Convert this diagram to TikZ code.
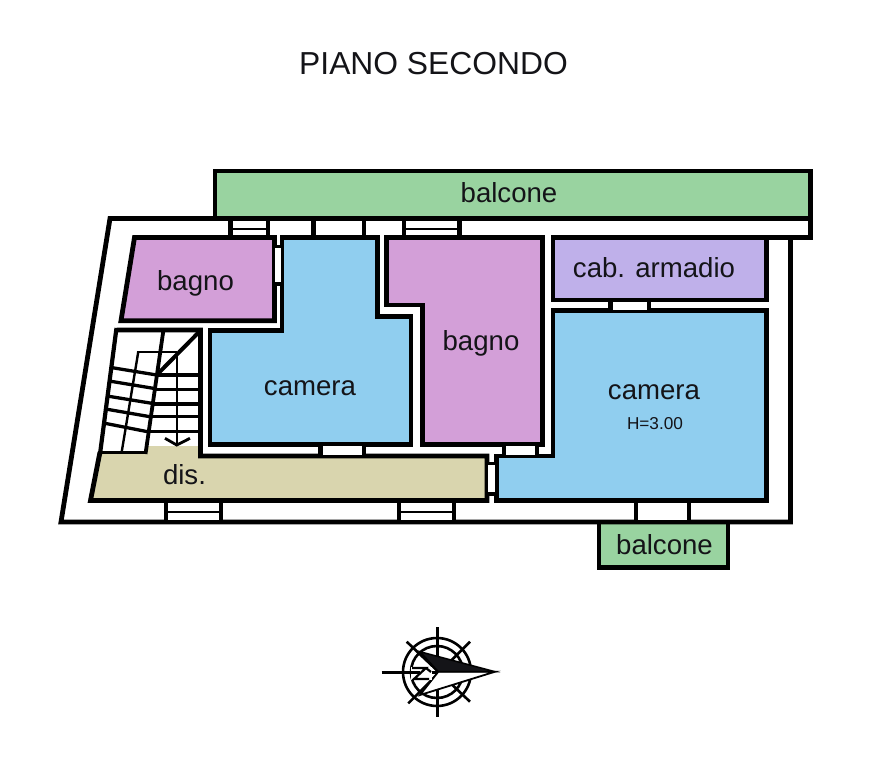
\documentclass[tikz,border=0pt]{standalone}
\usepackage{fontspec}
\setmainfont{Liberation Sans}
\definecolor{cgreen}{HTML}{99D3A0}
\definecolor{cpink}{HTML}{D39FD8}
\definecolor{cblue}{HTML}{90CEEF}
\definecolor{clilac}{HTML}{BFB0EA}
\definecolor{csand}{HTML}{D9D5AE}
\definecolor{ink}{HTML}{141418}
\tikzset{
  wall/.style={draw=black,line width=4.8pt,line join=miter},
  tread/.style={draw=black,line width=3.3pt},
  thinline/.style={draw=black,line width=2.4pt},
  label/.style={anchor=base,text=ink,font=\fontsize{27.6}{30}\selectfont,inner sep=0pt},
  small/.style={anchor=base,text=ink,font=\fontsize{17.2}{20}\selectfont,inner sep=0pt},
  title/.style={anchor=base,text=ink,font=\fontsize{31.8}{36}\selectfont,inner sep=0pt},
  compass/.style={draw=black,line width=2.6pt},
}
% horizontal-wall opening: x1,x2 white part; y1,y2 extent; tick on both sides
\newcommand\opening[4]{%
  \fill[white] (#1,#3) rectangle (#2,#4);
  \fill[black] (#1-4.4,#3) rectangle (#1,#4);
  \fill[black] (#2,#3) rectangle (#2+4.4,#4);
}
\begin{document}
\begin{tikzpicture}[x=1pt,y=-1pt]
\useasboundingbox (0,0) rectangle (871,768);
\fill[white] (0,0) rectangle (871,768);

% balconies
\path[wall,fill=cgreen] (215,218.5) -- (215,171) -- (810.5,171) -- (810.5,218.5) -- cycle;
\path[wall,fill=cgreen] (599,522) -- (599,567.5) -- (728,567.5) -- (728,522) -- cycle;

% outer wall
\draw[wall] (790.5,237.5) -- (790.5,522) -- (61,522) -- (110,218.5) -- (215,218.5);
\draw[wall] (810.5,216) -- (810.5,237.5) -- (553,237.5);

% rooms
\path[wall,fill=cpink] (134.5,237.5) -- (274.5,237.5) -- (274.5,320.7) -- (121,320.7) -- cycle;
\path[wall,fill=cblue] (282,237.5) -- (377.5,237.5) -- (377.5,316.5) -- (411,316.5) -- (411,444.2) -- (210,444.2) -- (210,330.5) -- (282,330.5) -- cycle;
\path[wall,fill=cpink] (386.5,237.5) -- (542.5,237.5) -- (542.5,444.5) -- (422.5,444.5) -- (422.5,305) -- (386.5,305) -- cycle;
\path[wall,fill=clilac] (553,237.5) -- (766.5,237.5) -- (766.5,300) -- (553,300) -- cycle;
\path[wall,fill=cblue] (553,310.5) -- (766.5,310.5) -- (766.5,500.5) -- (496.5,500.5) -- (496.5,456) -- (553,456) -- cycle;

% distribution corridor
\fill[csand] (100,452) -- (146.7,452) -- (146.7,446) -- (200.5,446) -- (200.5,456) -- (487,456) -- (487,500.5) -- (90.5,500.5) -- cycle;
\draw[wall] (116.5,330) -- (200.5,330) -- (200.5,456) -- (487,456) -- (487,500.5) -- (90.5,500.5) -- (100,452);
\draw[line width=4.2pt] (116.5,328) -- (100,454);

% stair
\draw[tread] (100,452.7) -- (146.7,452.7);
\draw[line width=3.8pt] (163.3,331) -- (145.5,454);
\draw[line width=4pt] (199,332) -- (156.7,375);
\draw[thinline] (136.7,351.7) -- (176.7,351.7);
\draw[thinline] (138.3,351.7) -- (121.7,452);
\draw[thinline] (176.7,351.7) -- (176.7,445);
\foreach \a/\b/\c/\d in {111/367.5/156.7/375, 109/381/153.3/388.3, 107/396/151.7/403.3, 105.5/409/150/416.7, 103.5/423/147.5/431.7}
  \draw[tread] (\a,\b) -- (\c,\d);
\foreach \a/\b in {156.7/375, 153.3/389.3, 151.5/404, 150/416.7, 147.5/431.7}
  \draw[tread] (\a,\b) -- (200,\b);
\draw[line width=2.8pt] (165,438.3) -- (176.7,445) -- (190,438.3);

% openings, top wall
\opening{232.7}{266}{221}{235}
\draw[thinline] (232.7,229) -- (266,229);
\fill[black] (311,221) rectangle (315.7,235);
\fill[black] (361.7,221) rectangle (366,235);
\opening{406}{457.3}{221}{235}
\draw[thinline] (406,229) -- (457.3,229);
% openings, bottom wall
\opening{168}{219}{503}{519.6}
\draw[thinline] (168,512) -- (219,512);
\opening{401}{452}{503}{519.6}
\draw[thinline] (401,512) -- (452,512);
\opening{638.3}{687}{503}{519.6}
% inner openings
\opening{612.7}{646.7}{301.6}{310}
\opening{506}{535}{445.5}{455}
\opening{322.7}{362}{445.5}{455}
% vertical openings
\fill[black] (272,245) rectangle (284,286);
\fill[white] (275,248.3) rectangle (280.7,281.7);
\fill[black] (484.7,461.7) rectangle (498.7,496);
\fill[white] (487.5,465) rectangle (494.6,491.7);

% compass
\draw[compass] (437,672) circle (34);
\draw[compass] (437,672) circle (26);
\draw[compass] (437.7,627.3) -- (437.7,716.7);
\draw[compass] (381.7,672.3) -- (438,672.3);
\draw[compass] (406.7,641.7) -- (470,701.7);
\draw[compass] (470,641.7) -- (408.3,703.3);
\path[draw=black,line width=1.8pt,fill=white] (420,695) -- (438.3,671.7) -- (495,671.7) -- cycle;
\path[draw=black,line width=1.5pt,fill=ink] (420,651.7) -- (495,671.7) -- (438.3,671.7) -- cycle;
\fill[white] (411,667) rectangle (432,680);
\draw[compass,line width=2.2pt] (412,668) -- (426,668) -- (414,679) -- (429,679);
\draw[compass,line width=2.2pt] (426,668) -- (431,672);
\draw[compass] (407,672.3) -- (420,672.3);

% labels
\node[title] (t0) at (433.5,74.5) {PIANO SECONDO};
\node[label] (t1) at (509,202.7) {balcone};
\node[label] (t2) at (195.5,290) {bagno};
\node[label] (t3) at (654,277.3) {cab. armadio};
\node[label] (t4) at (481,350) {bagno};
\node[label] (t5) at (310,395) {camera};
\node[label] (t6) at (654,399) {camera};
\node[small] (t7) at (655,429) {H=3.00};
\node[label] (t8) at (184.5,484) {dis.};
\node[label] (t9) at (664.5,554) {balcone};
\end{tikzpicture}
\end{document}
